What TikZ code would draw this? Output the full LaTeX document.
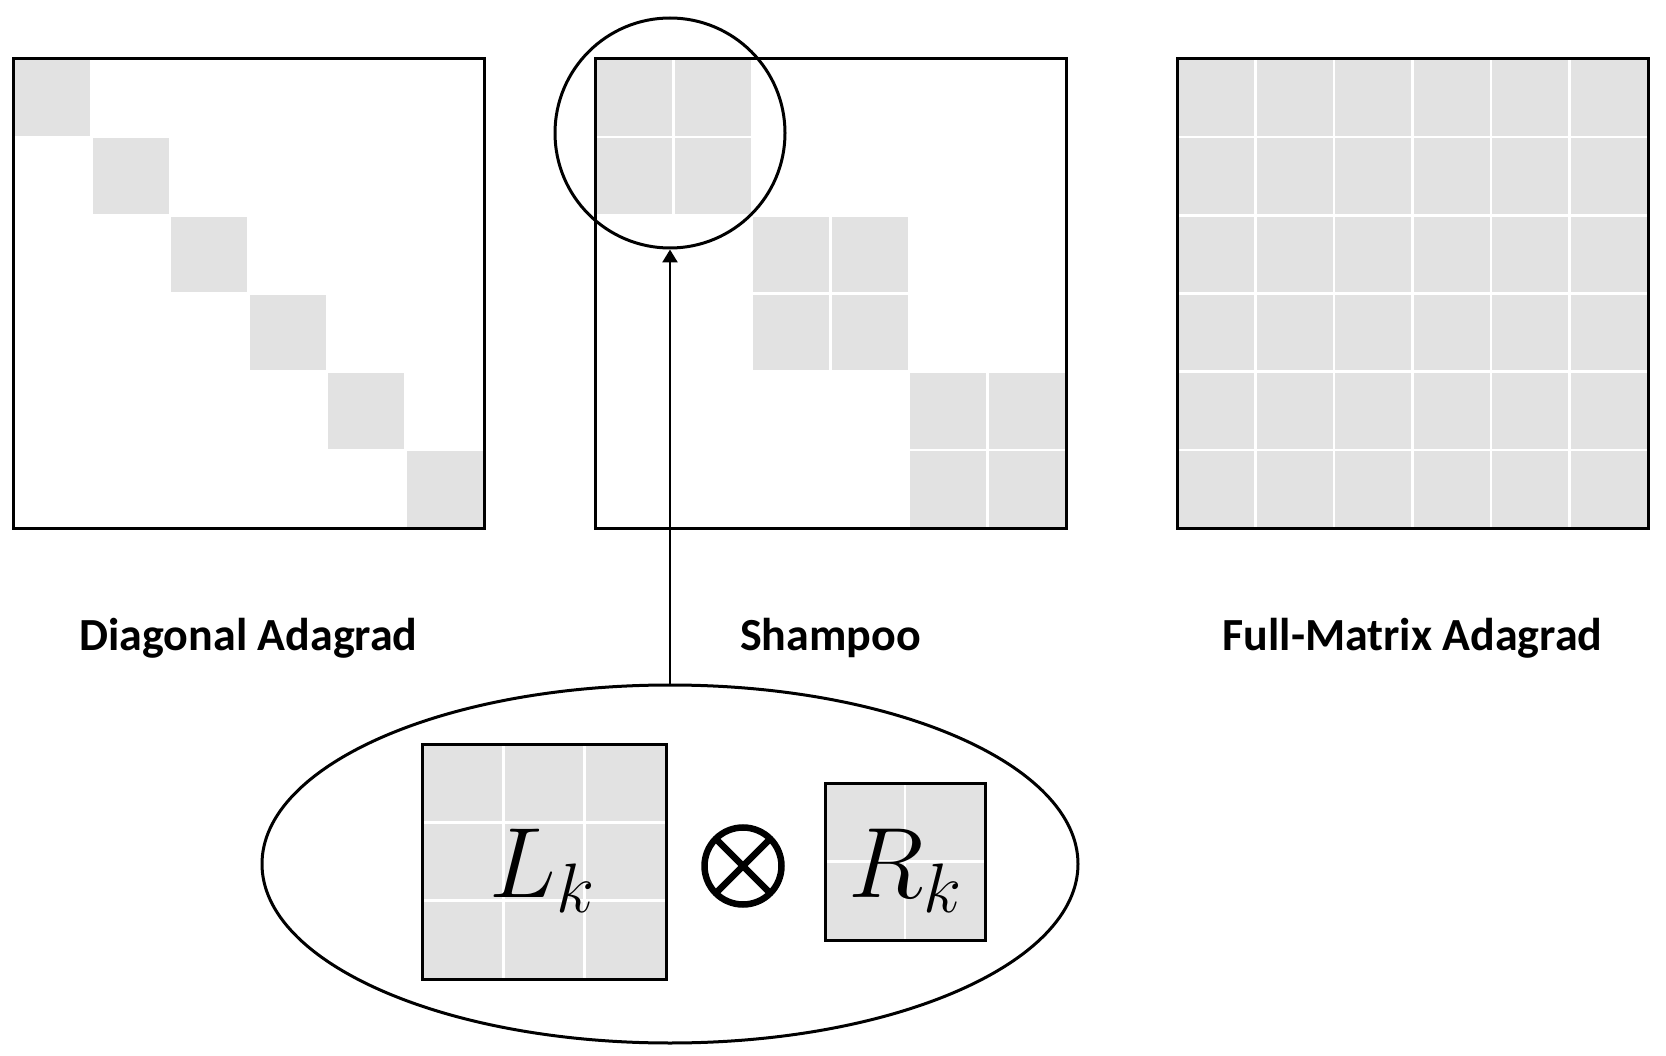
\RequirePackage{fix-cm}
\documentclass[tikz,border=0pt]{standalone}
\usepackage{fontspec}
\newfontfamily\labfont{Carlito}
\usetikzlibrary{shapes.geometric,arrows.meta}
\definecolor{cellgray}{RGB}{226,226,226}
\tikzset{
  matbox/.style={draw=black, line width=3pt, minimum width=471pt, minimum height=469pt, inner sep=0pt, outer sep=0pt},
  gridline/.style={white, line width=2.5pt},
  lab/.style={anchor=base, font=\labfont\bfseries\fontsize{46}{54}\selectfont},
  mathlab/.style={anchor=base, inner sep=0pt, font=\fontsize{100}{100}\selectfont},
  thinline/.style={draw=black, line width=3pt, inner sep=0pt}
}
\begin{document}
\begin{tikzpicture}[x=1pt,y=-1pt]
\useasboundingbox[fill=white] (0,0) rectangle (1666,1056);

% ---- Diagonal Adagrad ----
\foreach \i in {0,...,5}
  \fill[cellgray] ({13+\i*78.5},{59+\i*469/6}) rectangle +(78.5,{469/6});
\foreach \i in {1,...,5}{
  \draw[gridline] ({13+\i*78.5},59) -- ++(0,469);
  \draw[gridline] (13,{59+\i*469/6}) -- ++(471,0);
}
\node[matbox] (diag) at (248.5,293.5) {};

% ---- Shampoo ----
\foreach \b in {0,1,2}
  \fill[cellgray] ({595+\b*157},{59+\b*469/3}) rectangle +(157,{469/3});
\foreach \i in {1,...,5}{
  \draw[gridline] ({595+\i*78.5},59) -- ++(0,469);
  \draw[gridline] (595,{59+\i*469/6}) -- ++(471,0);
}
\node[matbox] (shampoo) at (830.5,293.5) {};

% ---- Full-Matrix Adagrad ----
\fill[cellgray] (1177,59) rectangle +(471,469);
\foreach \i in {1,...,5}{
  \draw[gridline] ({1177+\i*78.5},59) -- ++(0,469);
  \draw[gridline] (1177,{59+\i*469/6}) -- ++(471,0);
}
\node[matbox] (full) at (1412.5,293.5) {};

% ---- labels ----
\node[lab] (ldiag) at (248.5,650) {Diagonal Adagrad};
\node[lab] (lshampoo) at (830.5,650) {Shampoo};
\node[lab] (lfull) at (1412.5,650) {Full-Matrix Adagrad};

% ---- zoom circle ----
\node[thinline, circle, minimum size=230pt] (zoomc) at (670,133) {};

% ---- ellipse ----
\node[thinline, ellipse, minimum width=816pt, minimum height=358pt] (ell) at (670,864) {};

\draw[line width=2.6pt, -{Triangle[length=13pt,width=15pt]}] (ell.north) -- (zoomc.south);

% ---- L_k ----
\fill[cellgray] (422,744) rectangle (666,979);
\foreach \i in {1,2}{
  \draw[gridline] ({422+\i*244/3},744) -- ++(0,235);
  \draw[gridline] (422,{744+\i*235/3}) -- ++(244,0);
}
\node[thinline, minimum width=244pt, minimum height=235pt] (lk) at (544,861.5) {};
\node[mathlab] (lktext) at (542,897) {$L_k$};

% ---- otimes ----
\node[draw=black, circle, line width=6.5pt, minimum size=77pt, inner sep=0pt,
  path picture={\draw[line width=6.5pt] (path picture bounding box.north west) -- (path picture bounding box.south east)
  (path picture bounding box.north east) -- (path picture bounding box.south west);}] (otimes) at (743,866) {};

% ---- R_k ----
\fill[cellgray] (825,783) rectangle (985,940);
\draw[gridline] (905,783) -- (905,940);
\draw[gridline] (825,861.5) -- (985,861.5);
\node[thinline, minimum width=160pt, minimum height=157pt] (rk) at (905,861.5) {};
\node[mathlab] (rktext) at (905.5,897) {$R_k$};

\end{tikzpicture}
\end{document}
